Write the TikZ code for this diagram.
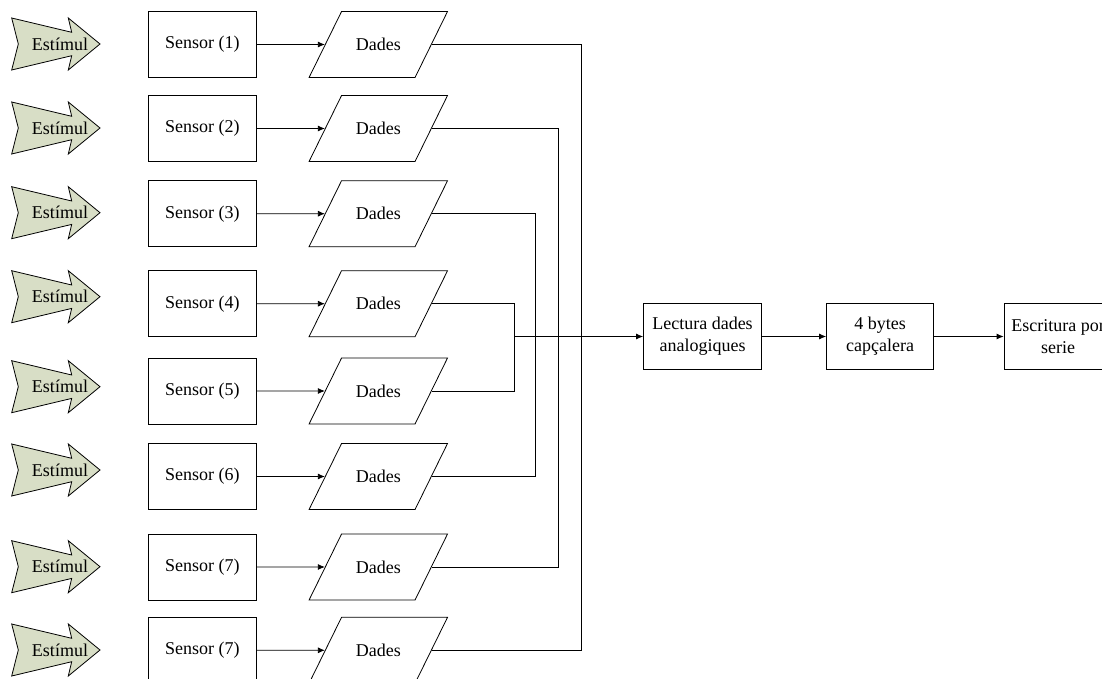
\documentclass[tikz,border=0pt]{standalone}
\usepackage{fontspec}
\setmainfont{Liberation Serif}
\usetikzlibrary{shapes.geometric,arrows.meta}
\definecolor{stimfill}{RGB}{216,222,198}
\tikzset{
    sensorbox/.style={draw, minimum width=108pt, minimum height=66pt, inner sep=0pt},
    dadesbox/.style={draw, trapezium, trapezium left angle=63.8, trapezium right angle=116.2,
        text width=73.5pt, align=center, text height=14pt, text depth=2pt,
        inner xsep=0pt, inner ysep=25pt},
    stepbox/.style={draw, minimum height=66pt, align=center, inner sep=0pt},
    flow/.style={-{Latex[length=7pt,width=6pt]}},
    pics/estimul/.style={code={
        \draw[fill=stimfill] (-44.3,-26) -- (15.7,-11.7) -- (12.3,-26) -- (44,0) -- (12.3,26)
            -- (15.7,11.7) -- (-44.3,26) -- (-37.7,0) -- cycle;
        \node (-lbl) at (4,0) {Estímul};
    }}
}
\begin{document}
\begin{tikzpicture}[x=1pt, y=-1pt, line width=0.8pt, font=\fontsize{18}{22}\selectfont]
    \useasboundingbox (0,0) rectangle (1102,679);
    \clip (0,0) rectangle (1102,679);
    % one row per sensor
    \foreach \i/\n/\ys/\yb/\xv in {1/1/44/44.5/581.5, 2/2/128/128.5/558, 3/3/212.7/213.7/535.5,
        4/4/296.7/303.7/514.3, 5/5/386.7/391/514.3, 6/6/470/476.5/535.5,
        7/7/566.7/567/558, 8/7/650/650.3/581.5} {
        \pic (st\i) at (56,\ys) {estimul};
        \node[sensorbox] (sen\i) at (202.3,\yb) {Sensor (\n)};
        \node[dadesbox] (dad\i) at (378.3,\yb) {Dades};
        \coordinate (j\i) at (\xv,336.5);
        \draw[flow] (sen\i) -- (dad\i);
        \draw (dad\i) -| (j\i);
    }
    \node[stepbox, minimum width=118pt] (lec) at (702.5,336.5) {Lectura dades\\analogiques};
    \node[stepbox, minimum width=107pt] (cap) at (880,336.5) {4 bytes\\capçalera};
    \node[stepbox, minimum width=108pt] (esc) at (1058,336.5) {Escritura por\\serie};
    \draw[flow] (j4) -- (lec);
    \draw[flow] (lec) -- (cap);
    \draw[flow] (cap) -- (esc);
\end{tikzpicture}
\end{document}
